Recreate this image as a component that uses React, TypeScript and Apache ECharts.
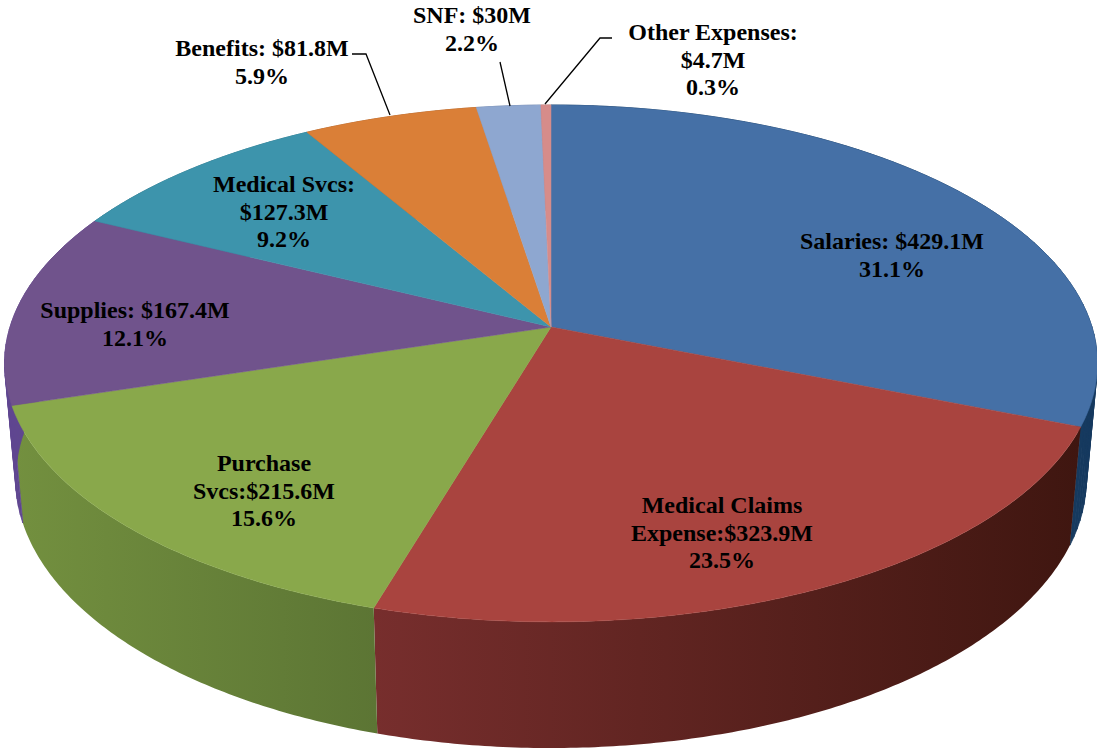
import React, { useEffect, useRef } from "react";
import * as echarts from "echarts";

const categories = ["Salaries", "Medical Claims", "Purchase Svcs", "Supplies", "Medical Svcs", "Benefits", "SNF", "Other Expenses"];
const amounts = [429.1, 323.9, 215.6, 167.4, 127.3, 81.8, 30, 4.7];
const labelLines = [
  ["Salaries: $429.1M", "31.1%"],
  ["Medical Claims", "Expense:$323.9M", "23.5%"],
  ["Purchase", "Svcs:$215.6M", "15.6%"],
  ["Supplies: $167.4M", "12.1%"],
  ["Medical Svcs:", "$127.3M", "9.2%"],
  ["Benefits: $81.8M", "5.9%"],
  ["SNF: $30M", "2.2%"],
  ["Other Expenses:", "$4.7M", "0.3%"],
];
const topColors = ["#4570a6", "#a9443f", "#89a84b", "#70538c", "#3d94ac", "#da7f37", "#8ea7d0", "#d68c8a"];
const wallStops = [
  ["#163a5f", "#163a5f"],
  ["#772e2d", "#3f1610"],
  ["#73903f", "#5c7534"],
  ["#5f4690", "#5f4690"],
  ["#2f7385", "#2f7385"],
  ["#a85f28", "#a85f28"],
  ["#6c82a3", "#6c82a3"],
  ["#a76c6a", "#a76c6a"],
];
// layout: first-line centre of each label (x, y), and leader polyline if any
const labelAnchors = [
  [892, 241], [722, 505], [264, 463], [135, 310], [284, 184], [262, 48], [472, 15], [713, 32],
];
const leaders: (number[][] | null)[] = [
  null, null, null, null, null,
  [[352, 54], [366, 54], [390, 115]],
  [[500, 62], [510, 106]],
  [[612, 38], [600, 38], [545, 104]],
];

const total = amounts.reduce((a, b) => a + b, 0);
const cx = 551;
const k = 0.141;
const topPlane = { A: 541, B: 253.3, y0: 327 };
const basePlane = { A: 530, B: 263.5, y0: 441.3 };

function project(plane: { A: number; B: number; y0: number }, theta: number) {
  const X = Math.sin(theta);
  const Y = -Math.cos(theta);
  const w = 1 - k * Y;
  return [cx + (plane.A * X) / w, plane.y0 + (plane.B * Y) / w];
}

function arc(plane: { A: number; B: number; y0: number }, a0: number, a1: number, step = 0.01) {
  const n = Math.max(2, Math.ceil(Math.abs(a1 - a0) / step));
  const pts: number[][] = [];
  for (let i = 0; i <= n; i++) pts.push(project(plane, a0 + ((a1 - a0) * i) / n));
  return pts;
}

function sweep(index: number) {
  let before = 0;
  for (let i = 0; i < index; i++) before += amounts[i];
  const a0 = (before / total) * Math.PI * 2;
  return [a0, a0 + (amounts[index] / total) * Math.PI * 2];
}

const renderWall = (params: any, api: any) => {
  const i = api.value(0);
  const [a0, a1] = sweep(i);
  const [c0, c1] = wallStops[i];
  if (c0 === c1) {
    // Solid walls: a strip of quads also fills the silhouette between the two rims.
    const top = arc(topPlane, a0, a1, 0.03);
    const base = arc(basePlane, a0, a1, 0.03);
    const children: any[] = [];
    for (let s = 0; s < top.length - 1; s++) {
      children.push({
        type: "polygon",
        shape: { points: [top[s], top[s + 1], base[s + 1], base[s]] },
        style: { fill: c0, stroke: c0, lineWidth: 0.8 },
      });
    }
    return { type: "group", children };
  }
  const top = arc(topPlane, a0, a1);
  const base = arc(basePlane, a0, a1).reverse();
  const xs = top.concat(base).map((p) => p[0]);
  const fill = new echarts.graphic.LinearGradient(
    Math.min(...xs), 0, Math.max(...xs), 0,
    [
      { offset: 0, color: c0 },
      { offset: 1, color: c1 },
    ],
    true
  );
  return { type: "polygon", shape: { points: top.concat(base) }, style: { fill } };
};

const renderTop = (params: any, api: any) => {
  const i = api.value(0);
  const [a0, a1] = sweep(i);
  const points = [[cx, topPlane.y0]].concat(arc(topPlane, a0, a1));
  return { type: "polygon", shape: { points }, style: { fill: topColors[i], stroke: topColors[i], lineWidth: 0.5 } };
};

const renderLabel = (params: any, api: any) => {
  const i = api.value(0);
  const [x, y] = labelAnchors[i];
  const children: any[] = labelLines[i].map((line, j) => ({
    type: "text",
    style: {
      text: line,
      x,
      y: y + j * 27.5,
      fill: "#000",
      font: 'bold 24px "Liberation Serif"',
      textAlign: "center",
      textVerticalAlign: "middle",
    },
  }));
  const leader = leaders[i];
  if (leader) {
    children.push({
      type: "polyline",
      shape: { points: leader },
      style: { fill: "none", stroke: "#000", lineWidth: 1.3 },
    });
  }
  return { type: "group", children };
};

export default function App() {
  const ref = useRef<HTMLDivElement>(null);
  useEffect(() => {
    document.body.style.margin = "0";
    const chart = echarts.init(ref.current!, undefined, { renderer: "svg" });
    const data = amounts.map((v, i) => ({ name: categories[i], value: [i, v] }));
    chart.setOption({
      animation: false,
      backgroundColor: "#fff",
      series: [
        { type: "custom", coordinateSystem: "none", silent: true, z: 1, renderItem: renderWall, data },
        { type: "custom", coordinateSystem: "none", silent: true, z: 2, renderItem: renderTop, data },
        { type: "custom", coordinateSystem: "none", silent: true, z: 3, renderItem: renderLabel, data },
      ],
    });
    return () => chart.dispose();
  }, []);
  return <div ref={ref} style={{ width: 1097, height: 749 }} />;
}
